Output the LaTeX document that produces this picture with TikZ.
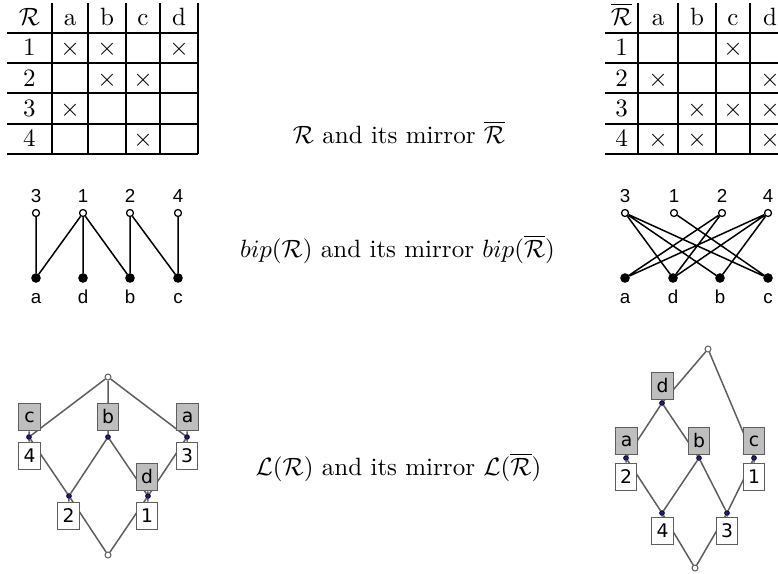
\documentclass[tikz,border=0pt]{standalone}
\usepackage[]{amsmath}
\usepackage[]{amssymb}
\usepackage[]{fontspec}
\usepackage[]{tikz}
\newfontfamily\bipfont{Liberation Sans}
\newfontfamily\latfont{DejaVu Sans}
\definecolor{latgray}{HTML}{5E5E5E}
\definecolor{latfill}{HTML}{BEBEBE}
\definecolor{latblue}{HTML}{1C1C8A}
\tikzset{tabrule/.style = {line width=0.5}}
\tikzset{objc/.style = {draw, circle, fill=white, inner sep=0, minimum size=2.8pt, line width=0.5}}
\tikzset{attc/.style = {draw, circle, fill, inner sep=0, minimum size=3.4pt}}
\tikzset{biplab/.style = {anchor=base, inner sep=0, font=\bipfont\fontsize{7.5}{9}\selectfont}}
\tikzset{bipedge/.style = {line width=0.6}}
\tikzset{latline/.style = {draw=latgray, line width=0.6}}
\tikzset{attbox/.style = {draw=latgray, fill=latfill, inner sep=0, minimum width=8.6pt, minimum height=11pt, line width=0.5, font=\latfont\fontsize{7.5}{9}\selectfont}}
\tikzset{objbox/.style = {attbox, fill=white}}
\tikzset{latdot/.style = {draw=black, fill=latblue, circle, inner sep=0, minimum size=1.9pt, line width=0.3}}
\tikzset{enddot/.style = {draw=latgray, fill=white, circle, inner sep=0, minimum size=2.4pt, line width=0.4}}
\tikzset{cell/.style = {anchor=base, inner sep=0}}
\begin{document}
\begin{tikzpicture}[x=0.4pt, y=-0.4pt]
    \useasboundingbox (0,0) rectangle (778,573);
    \clip (0,0) rectangle (778,573);
    % the relation R
    \draw [tabrule] (7,33)--(198,33) (7,63)--(198,63) (7,93)--(198,93) (7,124)--(198,124) (7,154)--(198,154);
    \draw [tabrule] (52,3)--(52,154) (88,3)--(88,154) (126,3)--(126,154) (160,3)--(160,154) (198,3)--(198,154);
    \node [cell] (lh) at (29.5,25) {$\mathcal{R}$};
    \node [cell] (lha) at (70,25) {a};
    \node [cell] (lhb) at (107,25) {b};
    \node [cell] (lhc) at (143,25) {c};
    \node [cell] (lhd) at (179,25) {d};
    \node [cell] (lr1) at (29.5,55) {1};
    \node [cell] (lr2) at (29.5,86) {2};
    \node [cell] (lr3) at (29.5,116) {3};
    \node [cell] (lr4) at (29.5,146) {4};
    \node [cell] (l1a) at (70,55) {$\times$};
    \node [cell] (l1b) at (107,55) {$\times$};
    \node [cell] (l1d) at (179,55) {$\times$};
    \node [cell] (l2b) at (107,86) {$\times$};
    \node [cell] (l2c) at (143,86) {$\times$};
    \node [cell] (l3a) at (70,116) {$\times$};
    \node [cell] (l4c) at (143,146) {$\times$};
    % the mirror
    \draw [tabrule] (605,33)--(790,33) (605,63)--(790,63) (605,93)--(790,93) (605,124)--(790,124) (605,154)--(790,154);
    \draw [tabrule] (638,3)--(638,154) (678,3)--(678,154) (716,3)--(716,154) (750,3)--(750,154) (790,3)--(790,154);
    \node [cell] (rh) at (621.5,25) {$\overline{\mathcal{R}}$};
    \node [cell] (rha) at (658,25) {a};
    \node [cell] (rhb) at (697,25) {b};
    \node [cell] (rhc) at (733,25) {c};
    \node [cell] (rhd) at (770,25) {d};
    \node [cell] (rr1) at (621.5,55) {1};
    \node [cell] (rr2) at (621.5,86) {2};
    \node [cell] (rr3) at (621.5,116) {3};
    \node [cell] (rr4) at (621.5,146) {4};
    \node [cell] (r1c) at (733,55) {$\times$};
    \node [cell] (r2a) at (658,86) {$\times$};
    \node [cell] (r2d) at (770,86) {$\times$};
    \node [cell] (r3b) at (697,116) {$\times$};
    \node [cell] (r3c) at (733,116) {$\times$};
    \node [cell] (r3d) at (770,116) {$\times$};
    \node [cell] (r4a) at (658,146) {$\times$};
    \node [cell] (r4b) at (697,146) {$\times$};
    \node [cell] (r4d) at (770,146) {$\times$};
    % captions
    \node [anchor=base] (cap1) at (399,143) {$\mathcal{R}$ and its mirror $\overline{\mathcal{R}}$};
    \node [anchor=base] (cap2) at (397.5,257) {$bip(\mathcal{R})$ and its mirror $bip(\overline{\mathcal{R}})$};
    \node [anchor=base] (cap3) at (398.5,475) {$\mathcal{L}(\mathcal{R})$ and its mirror $\mathcal{L}(\overline{\mathcal{R}})$};
    % bip(R)
    \node [objc] (lo3) at (36,213) {};
    \node [objc] (lo1) at (83,213) {};
    \node [objc] (lo2) at (130,213) {};
    \node [objc] (lo4) at (178,213) {};
    \node [attc] (lxa) at (36,278) {};
    \node [attc] (lxd) at (83,278) {};
    \node [attc] (lxb) at (130,278) {};
    \node [attc] (lxc) at (178,278) {};
    \node [biplab] (lo3l) at (36,202) {3};
    \node [biplab] (lo1l) at (83,202) {1};
    \node [biplab] (lo2l) at (130,202) {2};
    \node [biplab] (lo4l) at (178,202) {4};
    \node [biplab] (lxal) at (36,303) {a};
    \node [biplab] (lxdl) at (83,303) {d};
    \node [biplab] (lxbl) at (130,303) {b};
    \node [biplab] (lxcl) at (178,303) {c};
    \draw [bipedge] (lo3)--(lxa) (lo1)--(lxa) (lo1)--(lxd) (lo1)--(lxb) (lo2)--(lxb) (lo2)--(lxc) (lo4)--(lxc);
    % bip of the mirror
    \node [objc] (ro3) at (625,213) {};
    \node [objc] (ro1) at (674,213) {};
    \node [objc] (ro2) at (722,213) {};
    \node [objc] (ro4) at (768,213) {};
    \node [attc] (rxa) at (625,278) {};
    \node [attc] (rxd) at (673,278) {};
    \node [attc] (rxb) at (720,278) {};
    \node [attc] (rxc) at (768,278) {};
    \node [biplab] (ro3l) at (625,202) {3};
    \node [biplab] (ro1l) at (674,202) {1};
    \node [biplab] (ro2l) at (722,202) {2};
    \node [biplab] (ro4l) at (768,202) {4};
    \node [biplab] (rxal) at (625,303) {a};
    \node [biplab] (rxdl) at (673,303) {d};
    \node [biplab] (rxbl) at (720,303) {b};
    \node [biplab] (rxcl) at (768,303) {c};
    \draw [bipedge] (ro3)--(rxd) (ro3)--(rxb) (ro3)--(rxc) (ro1)--(rxc) (ro2)--(rxa) (ro2)--(rxd) (ro4)--(rxa) (ro4)--(rxd) (ro4)--(rxb);
    % L(R)
    \node [enddot] (ltop) at (108,377) {};
    \node [enddot] (lbot) at (108,555) {};
    \node [latdot] (lc) at (29,437) {};
    \node [latdot] (lb) at (108,437) {};
    \node [latdot] (la) at (187,437) {};
    \node [latdot] (l2) at (69,496) {};
    \node [latdot] (l1) at (148,496) {};
    \draw [latline] (ltop)--(lc) (ltop)--(lb) (ltop)--(la) (lc)--(l2) (lb)--(l2) (lb)--(l1) (la)--(l1) (l2)--(lbot) (l1)--(lbot);
    \node [attbox] (lcbox) at (29.5,417) {c};
    \node [attbox] (lbbox) at (108,417) {b};
    \node [attbox] (labox) at (187.5,417) {a};
    \node [attbox] (ldbox) at (147,477) {d};
    \node [objbox] (l4box) at (29.5,456) {4};
    \node [objbox] (l3box) at (187,456) {3};
    \node [objbox] (l2box) at (68.5,516) {2};
    \node [objbox] (l1box) at (147,516) {1};
    \draw [latline] (lc)--(lcbox) (la)--(labox) (l1)--(ldbox) (lc)--(l4box) (la)--(l3box) (l2)--(l2box) (l1)--(l1box);
    % L of the mirror
    \node [enddot] (rtop) at (708,349) {};
    \node [enddot] (rbot) at (695,568) {};
    \node [latdot] (rd) at (662,403) {};
    \node [latdot] (ra) at (626,458) {};
    \node [latdot] (rb) at (699,458) {};
    \node [latdot] (rc) at (754,458) {};
    \node [latdot] (r4) at (662,513) {};
    \node [latdot] (r3) at (727,513) {};
    \draw [latline] (rtop)--(rd) (rtop)--(rc) (rd)--(ra) (rd)--(rb) (ra)--(r4) (rb)--(r4) (rb)--(r3) (rc)--(r3) (r4)--(rbot) (r3)--(rbot);
    \node [attbox] (rdbox) at (662.5,386) {d};
    \node [attbox] (rabox) at (626.5,441) {a};
    \node [attbox] (rbbox) at (699,441) {b};
    \node [attbox] (rcbox) at (754,441) {c};
    \node [objbox] (r2box) at (626,477) {2};
    \node [objbox] (r1box) at (754,477) {1};
    \node [objbox] (r4box) at (662.5,531) {4};
    \node [objbox] (r3box) at (727,531) {3};
    \draw [latline] (ra)--(rabox) (rc)--(rcbox) (ra)--(r2box) (rc)--(r1box) (r4)--(r4box) (r3)--(r3box);
\end{tikzpicture}
\end{document}
